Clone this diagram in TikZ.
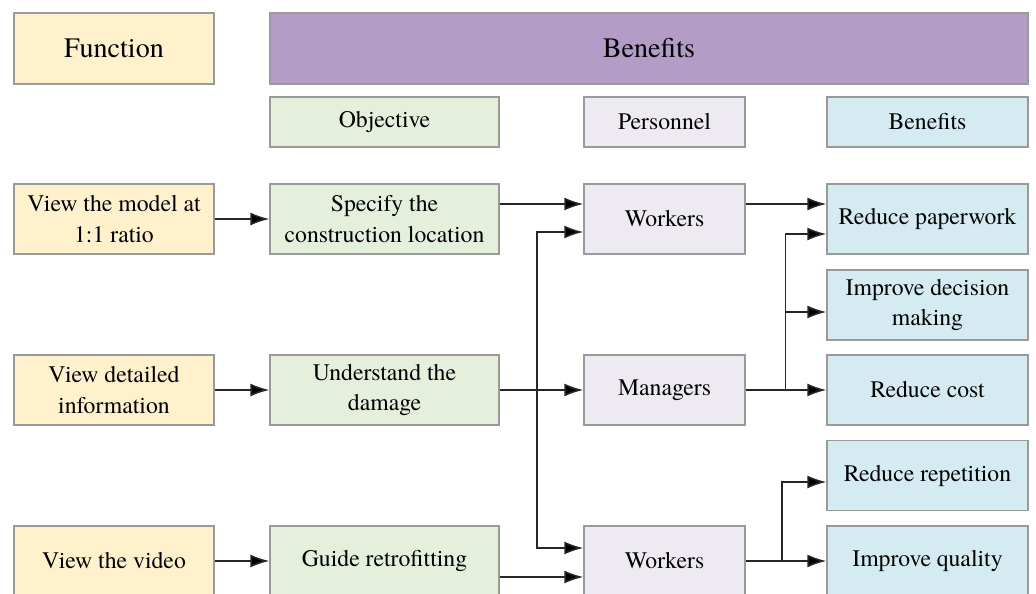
\documentclass[tikz,border=0pt]{standalone}
\usepackage{fontspec}
\setmainfont{texgyretermes}[Extension=.otf, UprightFont=*-regular, BoldFont=*-bold]
\usetikzlibrary{arrows.meta}

\definecolor{funcyellow}{HTML}{FFF1CC}
\definecolor{benpurple}{HTML}{B39DC6}
\definecolor{objgreen}{HTML}{E4EFDC}
\definecolor{perlilac}{HTML}{EEEAF2}
\definecolor{benblue}{HTML}{D4ECF1}
\definecolor{boxgray}{HTML}{9A9A9A}

\begin{document}
\begin{tikzpicture}[x=0.02cm, y=-0.02cm,
  box/.style={draw=boxgray, line width=0.8pt, inner sep=0pt, align=center,
    minimum height=1.4cm, font=\rmfamily\fontsize{13.5}{17.5}\selectfont},
  headbox/.style={box, minimum height=1.42cm, font=\rmfamily\fontsize{16}{19}\selectfont},
  subbox/.style={minimum height=1cm},
  funcbox/.style={box, fill=funcyellow, minimum width=4cm},
  objbox/.style={box, fill=objgreen, minimum width=4.58cm},
  perbox/.style={box, fill=perlilac, minimum width=3.22cm},
  benbox/.style={box, fill=benblue, minimum width=4.02cm},
  arr/.style={-{Latex[length=0.38cm,width=0.26cm,fill=black]}, line width=0.9pt, draw=black!85}]

 \useasboundingbox (0,0) rectangle (1036,594);

 % headers
 \node[headbox, fill=funcyellow, minimum width=4cm] (hfunc) at (114,48.5) {Function};
 \node[headbox, fill=benpurple, minimum width=15.16cm] (hben) at (649,48.5) {Benefits};
 \node[objbox, subbox] (hobj) at (384.5,122) {Objective};
 \node[perbox, subbox] (hper) at (664.5,122) {Personnel};
 \node[benbox, subbox] (hbenefit) at (927.5,122) {Benefits};

 % functions
 \node[funcbox] (f1) at (114,219) {View the model at\\1:1 ratio};
 \node[funcbox] (f2) at (114,390) {View detailed\\information};
 \node[funcbox] (f3) at (114,561) {View the video};

 % objectives
 \node[objbox] (o1) at (384.5,219) {Specify the\\construction location};
 \node[objbox] (o2) at (384.5,390) {Understand the\\damage};
 \node[objbox] (o3) at (384.5,561) {Guide retrofitting};

 % personnel
 \node[perbox] (p1) at (664.5,219) {Workers};
 \node[perbox] (p2) at (664.5,390) {Managers};
 \node[perbox] (p3) at (664.5,561) {Workers};

 % benefits
 \node[benbox] (b1) at (927.5,219) {Reduce paperwork};
 \node[benbox] (b2) at (927.5,305) {Improve decision\\making};
 \node[benbox] (b3) at (927.5,390) {Reduce cost};
 \node[benbox] (b4) at (927.5,475.5) {Reduce repetition};
 \node[benbox] (b5) at (927.5,561) {Improve quality};

 % junctions
 \coordinate (j1) at (537,390);
 \coordinate (j2) at (785.5,390);
 \coordinate (j3) at (782,561);

 % arrows
 \draw[arr] (f1) -- (o1);
 \draw[arr] (f2) -- (o2);
 \draw[arr] (f3) -- (o3);

 \draw[arr] ([yshift=0.3cm]o1.east) -- ([yshift=0.3cm]p1.west);
 \draw[arr] (o2) -- (p2);
 \draw[arr] (j1) |- ([yshift=-0.26cm]p1.west);
 \draw[arr] (j1) |- ([yshift=0.26cm]p3.west);
 \draw[arr] ([yshift=-0.32cm]o3.east) -- ([yshift=-0.32cm]p3.west);

 \draw[arr] ([yshift=0.3cm]p1.east) -- ([yshift=0.3cm]b1.west);
 \draw[arr] (p2) -- (b3);
 \draw[arr] (j2) |- ([yshift=-0.3cm]b1.west);
 \draw[arr] (j2) |- ([yshift=-0.14cm]b2.west);
 \draw[arr] (p3) -- (b5);
 \draw[arr] (j3) |- ([yshift=-0.13cm]b4.west);
\end{tikzpicture}
\end{document}
